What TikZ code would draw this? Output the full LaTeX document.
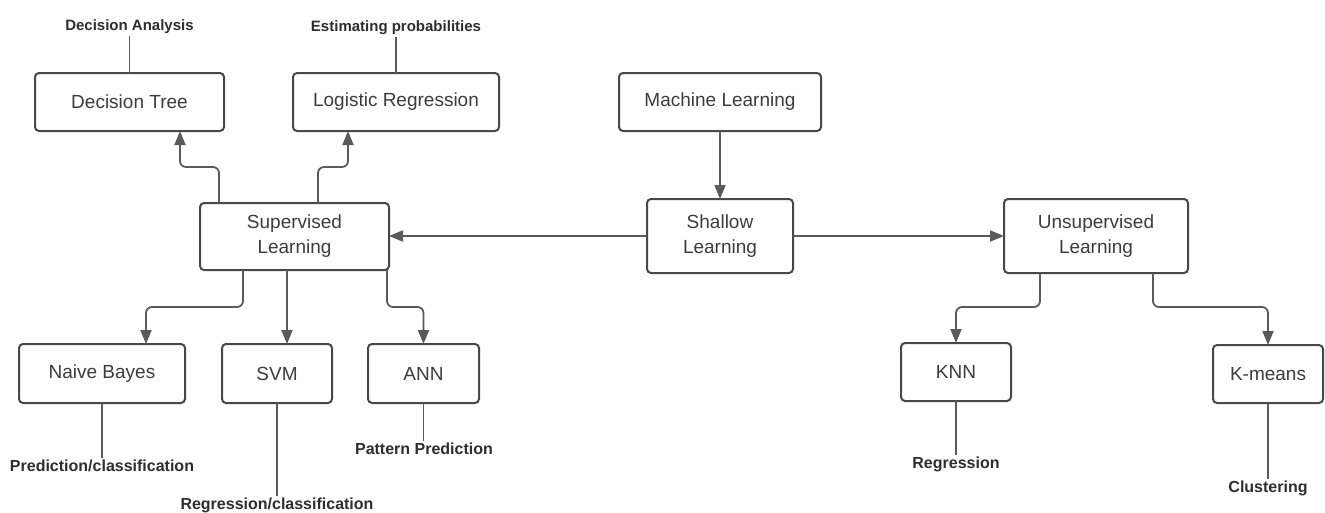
\documentclass[tikz,border=0pt]{standalone}
\usepackage{fontspec}
\setmainfont{Liberation Sans}
\usetikzlibrary{arrows.meta,calc}
\definecolor{edgec}{HTML}{5A5A5A}
\definecolor{bord}{HTML}{484848}
\definecolor{txt}{HTML}{3C3C3C}
\definecolor{lab}{HTML}{2E2E2E}
\begin{document}
\begin{tikzpicture}[x=1pt,y=-1pt,
 box/.style={draw=bord, line width=2pt, rounded corners=4pt, fill=white, inner sep=0pt, outer sep=0pt, align=center, text=txt, font=\fontsize{19}{25}\selectfont},
 lbl/.style={inner sep=2pt, outer sep=0pt, text=lab, font=\fontsize{15}{18}\selectfont\bfseries},
 lblb/.style={lbl, font=\fontsize{16}{19}\selectfont\bfseries},
 arr/.style={draw=edgec, line width=1.8pt, -{Triangle[length=14pt,width=11pt]}, rounded corners=6pt},
 tie/.style={draw=edgec, line width=1.8pt}]
\useasboundingbox[fill=white] (0,0) rectangle (1325,512);

% boxes
\node[box, minimum width=189pt, minimum height=58pt] (dt) at (129.5,102) {Decision Tree};
\node[box, minimum width=206pt, minimum height=58pt] (lr) at (396,102) {Logistic Regression};
\node[box, minimum width=202pt, minimum height=58pt] (ml) at (720,102) {Machine Learning};
\node[box, minimum width=189pt, minimum height=67pt] (sl) at (294.5,236.5) {Supervised\\Learning};
\node[box, minimum width=146pt, minimum height=74pt] (sh) at (720,236) {Shallow\\Learning};
\node[box, minimum width=184pt, minimum height=74pt] (ul) at (1096,236) {Unsupervised\\Learning};
\node[box, minimum width=166pt, minimum height=59pt] (nb) at (102,373.5) {Naive Bayes};
\node[box, minimum width=110pt, minimum height=59pt] (svm) at (277,373.5) {SVM};
\node[box, minimum width=111pt, minimum height=59pt] (ann) at (423.5,373.5) {ANN};
\node[box, minimum width=110pt, minimum height=58pt] (knn) at (956,372) {KNN};
\node[box, minimum width=110pt, minimum height=58pt] (km) at (1268,374) {K-means};

% labels
\node[lbl] (da) at (129.5,27) {Decision Analysis};
\node[lbl] (ep) at (396,28) {Estimating probabilities};
\node[lblb] (pc) at (102,466) {Prediction/classification};
\node[lblb] (rc) at (277,505) {Regression/classification};
\node[lblb] (pp) at (424,449) {Pattern Prediction};
\node[lblb] (rg) at (956,464) {Regression};
\node[lblb] (cl) at (1268,488) {Clustering};

% label ties
\draw[tie] (dt.north) -- (dt.north |- da.south);
\draw[tie] (lr.north) -- (lr.north |- ep.south);
\draw[tie] (nb.south) -- (nb.south |- pc.north);
\draw[tie] (svm.south) -- (svm.south |- rc.north);
\draw[tie] (ann.south) -- (ann.south |- pp.north);
\draw[tie] (knn.south) -- (knn.south |- rg.north);
\draw[tie] (km.south) -- (km.south |- cl.north);

% connectors
\coordinate (a1) at ($(sl.north west)+(19,0)$);
\coordinate (a2) at ($(dt.south east)+(-44,0)$);
\draw[arr] (a1) -- ++(0,-36) -| (a2);
\coordinate (b1) at ($(sl.north west)+(118,0)$);
\coordinate (b2) at ($(lr.south west)+(55,0)$);
\draw[arr] (b1) -- ++(0,-36) -| (b2);
\draw[arr] (ml.south) -- (sh.north);
\draw[arr] (sh.west) -- (sh.west -| sl.east);
\draw[arr] (sh.east) -- (ul.west);

\coordinate (c1) at ($(sl.south west)+(43,0)$);
\coordinate (c2) at ($(nb.north)+(44,0)$);
\draw[arr] (c1) -- ++(0,37) -| (c2);
\coordinate (d1) at ($(svm.north)+(10,0)$);
\draw[arr] (d1 |- sl.south) -- (d1);
\coordinate (e1) at ($(sl.south east)+(-2,0)$);
\draw[arr] (e1) -- ++(0,37) -| (ann.north);
\coordinate (f1) at ($(ul.south west)+(36,0)$);
\draw[arr] (f1) -- ++(0,34) -| (knn.north);
\coordinate (g1) at ($(ul.south east)+(-35,0)$);
\draw[arr] (g1) -- ++(0,34) -| (km.north);
\end{tikzpicture}
\end{document}
